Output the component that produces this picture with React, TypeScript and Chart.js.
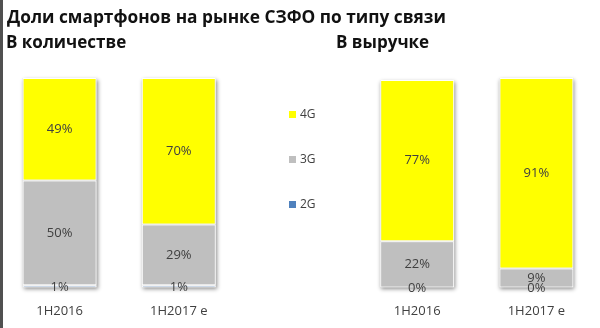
import React, { useEffect, useRef } from "react";
import { Chart, registerables } from "chart.js";

Chart.register(...registerables);

const categories = ["1H2016", "1H2017 e", "", "1H2016", "1H2017 e"];
const share2G: (number | null)[] = [1, 1, null, 0, 0];
const share3G: (number | null)[] = [50, 29, null, 22, 9];
const share4G: (number | null)[] = [49, 70, null, 77, 91];
const seriesNames = ["2G", "3G", "4G"];
const seriesColors = ["#4F81BD", "#BFBFBF", "#FFFF00"];
const titleLine = "Доли смартфонов на рынке СЗФО по типу связи";
const leftSubtitle = "В количестве";
const rightSubtitle = "В выручке";

const FONT = "'Open Sans', 'Noto Sans', sans-serif";

const decorPlugin = {
  id: "decor",
  beforeDatasetsDraw(chart: any) {
    const ctx = chart.ctx;
    const n = chart.data.labels.length;
    const last = chart.data.datasets.length - 1;
    for (let i = 0; i < n; i++) {
      if (chart.data.datasets[0].data[i] == null) continue;
      const bottom = chart.getDatasetMeta(0).data[i].getProps(["x", "base", "width"], true);
      const top = chart.getDatasetMeta(last).data[i].getProps(["y"], true);
      ctx.save();
      ctx.shadowColor = "rgba(0,0,0,0.45)";
      ctx.shadowBlur = 4;
      ctx.shadowOffsetX = 1;
      ctx.shadowOffsetY = 2;
      ctx.fillStyle = "#e0e0e0";
      ctx.fillRect(bottom.x - bottom.width / 2, top.y, bottom.width, bottom.base - top.y);
      ctx.restore();
    }
  },
  afterDatasetsDraw(chart: any) {
    const ctx = chart.ctx;
    ctx.save();
    ctx.font = `13px ${FONT}`;
    ctx.fillStyle = "#404040";
    ctx.textAlign = "center";
    ctx.textBaseline = "middle";
    chart.data.datasets.forEach((ds: any, di: number) => {
      const meta = chart.getDatasetMeta(di);
      ds.data.forEach((v: number | null, i: number) => {
        if (v == null) return;
        const el = meta.data[i].getProps(["x", "y", "base"], true);
        const cy = (el.y + el.base) / 2 + (v < 3 ? 1 : 0);
        ctx.fillText(`${v}%`, el.x, cy);
      });
    });
    ctx.restore();
  },
  afterDraw(chart: any) {
    const ctx = chart.ctx;
    const area = chart.chartArea;
    ctx.save();
    // left frame line
    ctx.fillStyle = "#505050";
    ctx.fillRect(0, 0, 3, chart.height);
    // titles
    ctx.fillStyle = "#111111";
    ctx.font = `bold 17.3px ${FONT}`;
    ctx.textAlign = "left";
    ctx.textBaseline = "alphabetic";
    ctx.fillText(titleLine, 7, 23);
    ctx.font = `bold 17px ${FONT}`;
    ctx.fillText(leftSubtitle, 6, 48);
    ctx.fillText(rightSubtitle, 336, 48);
    // legend
    const xs = chart.scales.x;
    const cx = xs.getPixelForValue(2);
    const order = [2, 1, 0];
    ctx.font = `12px ${FONT}`;
    ctx.textBaseline = "middle";
    order.forEach((di, k) => {
      const y = area.top + 37 + k * 45;
      ctx.fillStyle = seriesColors[di];
      ctx.fillRect(cx - 9, y - 4, 7, 7);
      ctx.fillStyle = "#404040";
      ctx.fillText(seriesNames[di], cx + 2, y);
    });
    ctx.restore();
  },
};

export default function App() {
  const ref = useRef<HTMLCanvasElement>(null);
  useEffect(() => {
    document.body.style.margin = "0";
    const chart = new Chart(ref.current!, {
      type: "bar",
      data: {
        labels: categories,
        datasets: [share2G, share3G, share4G].map((d, i) => ({
          label: seriesNames[i],
          data: d,
          backgroundColor: seriesColors[i],
          borderColor: "rgba(255,255,255,0.95)",
          borderWidth: 1,
          borderSkipped: false,
          barPercentage: 0.62,
          categoryPercentage: 1,
        })),
      },
      options: {
        animation: false,
        responsive: false,
        maintainAspectRatio: false,
        layout: { padding: { top: 78, left: 0, right: 4, bottom: 0 } },
        plugins: { legend: { display: false }, tooltip: { enabled: false }, title: { display: false } },
        scales: {
          x: {
            stacked: true,
            grid: { display: false, drawTicks: false },
            border: { display: false },
            ticks: { color: "#404040", font: { family: FONT, size: 13 }, padding: 16 },
          },
          y: {
            stacked: true,
            display: false,
            min: 0,
            max: 100,
          },
        },
      },
      plugins: [decorPlugin],
    });
    return () => chart.destroy();
  }, []);
  return (
    <div style={{ width: 600, height: 328, background: "#fff", overflow: "hidden" }}>
      <canvas ref={ref} width={600} height={335} style={{ display: "block" }} />
    </div>
  );
}
